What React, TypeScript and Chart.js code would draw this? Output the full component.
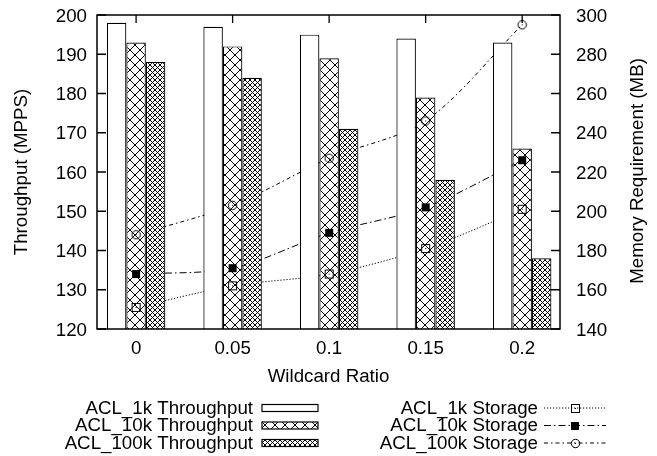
import React, { useEffect, useRef } from "react";
import { Chart, registerables } from "chart.js";

Chart.register(...registerables);

// ---- data ----
const categories = ["0", "0.05", "0.1", "0.15", "0.2"];
const acl1kThroughput = [198, 197, 195, 194, 193];
const acl10kThroughput = [193, 192, 189, 179, 166];
const acl100kThroughput = [188, 184, 171, 158, 138];
const acl1kStorage = [151, 162, 168, 181, 201];
const acl10kStorage = [168, 171, 189, 202, 226];
const acl100kStorage = [188, 203, 227, 246, 295];
const barLabels = ["ACL_1k Throughput", "ACL_10k Throughput", "ACL_100k Throughput"];
const lineLabels = ["ACL_1k Storage", "ACL_10k Storage", "ACL_100k Storage"];
const xTitle = "Wildcard Ratio";
const yTitle = "Throughput (MPPS)";
const y2Title = "Memory Requirement (MB)";

// ---- style ----
const FONT_FAMILY = '"Liberation Sans", Arial, Helvetica, sans-serif';
const FONT_SIZE = 18;
const SX = 1.04;
const W = 657;
const H = 456;

function txt(ctx: CanvasRenderingContext2D, s: string, x: number, y: number, align: CanvasTextAlign, rot = 0) {
  ctx.save();
  ctx.translate(x, y);
  if (rot) ctx.rotate(rot);
  ctx.scale(SX, 1);
  ctx.font = `${FONT_SIZE}px ${FONT_FAMILY}`;
  ctx.fillStyle = "#000";
  ctx.textAlign = align;
  ctx.textBaseline = "alphabetic";
  ctx.fillText(s, 0, 0);
  ctx.restore();
}

function hatchTile(p: number): HTMLCanvasElement {
  const c = document.createElement("canvas");
  c.width = p;
  c.height = p;
  const g = c.getContext("2d")!;
  g.fillStyle = "#fff";
  g.fillRect(0, 0, p, p);
  g.strokeStyle = "#000";
  g.lineWidth = 1;
  g.beginPath();
  g.moveTo(-1, -1);
  g.lineTo(p + 1, p + 1);
  g.moveTo(-1, p + 1);
  g.lineTo(p + 1, -1);
  g.stroke();
  return c;
}

function markerOpenSquare(): HTMLCanvasElement {
  const c = document.createElement("canvas");
  c.width = 11;
  c.height = 11;
  const g = c.getContext("2d")!;
  g.strokeStyle = "#000";
  g.lineWidth = 1;
  g.strokeRect(1.5, 1.5, 8, 8);
  g.fillStyle = "#000";
  g.fillRect(5, 5, 1, 1);
  return c;
}
function markerFilledSquare(): HTMLCanvasElement {
  const c = document.createElement("canvas");
  c.width = 10;
  c.height = 10;
  const g = c.getContext("2d")!;
  g.fillStyle = "#000";
  g.fillRect(1, 1, 8, 8);
  return c;
}
function markerOpenCircle(): HTMLCanvasElement {
  const c = document.createElement("canvas");
  c.width = 11;
  c.height = 11;
  const g = c.getContext("2d")!;
  g.strokeStyle = "#000";
  g.lineWidth = 1;
  g.beginPath();
  g.arc(5.5, 5.5, 4.2, 0, Math.PI * 2);
  g.stroke();
  g.fillStyle = "#000";
  g.fillRect(5, 5, 1, 1);
  return c;
}

const dashes = [
  [1.2, 1.8],
  [7, 3, 1.5, 3],
  [4, 3, 1.5, 3],
];

export default function App() {
  const ref = useRef<HTMLCanvasElement | null>(null);

  useEffect(() => {
    const canvas = ref.current!;
    const ctx = canvas.getContext("2d")!;
    const pat10 = ctx.createPattern(hatchTile(10), "repeat")!;
    const pat5 = ctx.createPattern(hatchTile(5), "repeat")!;
    const barFills: any[] = ["#fff", pat10, pat5];
    const markers = [markerOpenSquare(), markerFilledSquare(), markerOpenCircle()];

    const toXY = (arr: number[]) => arr.map((v, i) => ({ x: i, y: v }));
    const barSeries = [acl1kThroughput, acl10kThroughput, acl100kThroughput];
    const lineSeries = [acl1kStorage, acl10kStorage, acl100kStorage];

    const datasets: any[] = [];
    barSeries.forEach((s, k) => {
      datasets.push({
        type: "bar",
        label: barLabels[k],
        data: toXY(s),
        yAxisID: "y",
        xAxisID: "x",
        backgroundColor: barFills[k],
        borderColor: "#000",
        borderWidth: 1.2,
        categoryPercentage: 0.606,
        barPercentage: 1,
        order: 2,
      });
    });
    lineSeries.forEach((s, k) => {
      datasets.push({
        type: "line",
        label: lineLabels[k],
        data: toXY(s),
        yAxisID: "y2",
        xAxisID: "x",
        borderColor: "#000",
        borderWidth: 1,
        borderDash: dashes[k],
        pointRadius: 0,
        tension: 0.3,
        fill: false,
        order: 3,
      });
      datasets.push({
        type: "line",
        label: lineLabels[k] + " points",
        data: toXY(s),
        yAxisID: "y2",
        xAxisID: "x",
        showLine: false,
        pointStyle: markers[k],
        pointRadius: 5,
        order: 1,
      });
    });

    const decor = {
      id: "decor",
      beforeDatasetsDraw(chart: any) {
        const c = chart.ctx as CanvasRenderingContext2D;
        const { left, right, top, bottom } = chart.chartArea;
        const xs = chart.scales.x;
        const ys = chart.scales.y;
        const y2s = chart.scales.y2;
        c.save();
        c.strokeStyle = "#000";
        c.lineWidth = 1.3;
        c.beginPath();
        ys.ticks.forEach((t: any) => {
          const py = ys.getPixelForValue(t.value);
          c.moveTo(left, py);
          c.lineTo(left + 9, py);
        });
        y2s.ticks.forEach((t: any) => {
          const py = y2s.getPixelForValue(t.value);
          c.moveTo(right, py);
          c.lineTo(right - 9, py);
        });
        xs.ticks.forEach((t: any) => {
          const px = xs.getPixelForValue(t.value);
          c.moveTo(px, bottom);
          c.lineTo(px, bottom - 8);
          c.moveTo(px, top);
          c.lineTo(px, top + 8);
        });
        c.stroke();
        c.restore();
      },
      afterDatasetsDraw(chart: any) {
        const c = chart.ctx as CanvasRenderingContext2D;
        const { left, right, top, bottom } = chart.chartArea;
        const xs = chart.scales.x;
        const ys = chart.scales.y;
        const y2s = chart.scales.y2;
        c.save();
        c.strokeStyle = "#000";
        c.lineWidth = 1.5;
        c.strokeRect(left, top, right - left, bottom - top);
        c.restore();

        // tick labels
        ys.ticks.forEach((t: any) => {
          txt(c, String(t.value), left - 10, ys.getPixelForValue(t.value) + 6.5, "right");
        });
        y2s.ticks.forEach((t: any) => {
          txt(c, String(t.value), right + 16, y2s.getPixelForValue(t.value) + 6.5, "left");
        });
        xs.ticks.forEach((t: any) => {
          txt(c, categories[t.value], xs.getPixelForValue(t.value), 353.5, "center");
        });

        // titles
        txt(c, xTitle, (left + right) / 2, 382, "center");
        txt(c, yTitle, 27, (top + bottom) / 2, "center", -Math.PI / 2);
        txt(c, y2Title, 643, (top + bottom) / 2 - 1, "center", -Math.PI / 2);

        // legend
        const rowsBase = [413.5, 431, 448.5];
        rowsBase.forEach((b, k) => {
          const cy = b - 5.5;
          txt(c, barLabels[k], 253, b, "right");
          c.save();
          c.fillStyle = barFills[k];
          c.fillRect(262, cy - 3.5, 56, 7);
          c.strokeStyle = "#000";
          c.lineWidth = 1.2;
          c.strokeRect(262, cy - 3.5, 56, 7);
          c.restore();

          txt(c, lineLabels[k], 538, b, "right");
          c.save();
          c.strokeStyle = "#000";
          c.lineWidth = 1;
          c.setLineDash(dashes[k]);
          c.beginPath();
          c.moveTo(544, cy);
          c.lineTo(606, cy);
          c.stroke();
          c.restore();
          const m = markers[k];
          c.drawImage(m, Math.round(575 - m.width / 2), Math.round(cy - m.height / 2));
        });
      },
    };

    const chart = new Chart(canvas, {
      type: "bar",
      data: { datasets },
      options: {
        responsive: false,
        maintainAspectRatio: false,
        animation: false,
        layout: { padding: { top: 15, left: 0, right: 0, bottom: 0 } },
        plugins: {
          legend: { display: false },
          tooltip: { enabled: false },
        },
        scales: {
          x: {
            type: "linear",
            min: -0.405,
            max: 4.392,
            offset: false,
            grid: { display: false },
            border: { display: false },
            ticks: { display: false },
            afterBuildTicks: (s: any) => {
              s.ticks = categories.map((_, i) => ({ value: i }));
            },
            afterFit: (s: any) => {
              s.height = H - 329;
            },
          },
          y: {
            type: "linear",
            position: "left",
            min: 120,
            max: 200,
            ticks: { display: false, stepSize: 10 },
            grid: { display: false },
            border: { display: false },
            afterFit: (s: any) => {
              s.width = 97;
            },
          },
          y2: {
            type: "linear",
            position: "right",
            min: 140,
            max: 300,
            ticks: { display: false, stepSize: 20 },
            grid: { display: false },
            border: { display: false },
            afterFit: (s: any) => {
              s.width = 97;
            },
          },
        },
      } as any,
      plugins: [decor],
    });
    return () => chart.destroy();
  }, []);

  return (
    <div style={{ position: "absolute", left: 0, top: 0, width: W, height: H, background: "#fff" }}>
      <canvas ref={ref} width={W} height={H} style={{ display: "block", width: W, height: H }} />
    </div>
  );
}
